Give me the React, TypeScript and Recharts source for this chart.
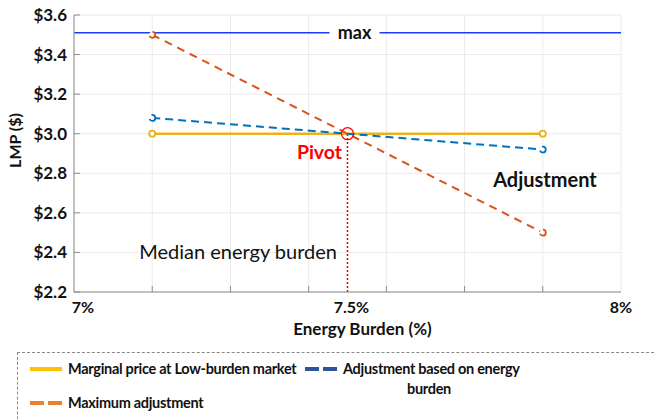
import React from "react";
import { LineChart, Line, XAxis, YAxis, CartesianGrid, ReferenceLine, ReferenceDot } from "recharts";

// values
const burden = [7.143, 7.857];
const lowBurdenPrice = [3.0, 3.0];
const adjustment = [3.08, 2.92];
const maxAdjustment = [3.5, 2.5];
const maxLevel = 3.51;
const pivotX = 7.5;
const pivotY = 3.0;

const yTicks = [2.2, 2.4, 2.6, 2.8, 3.0, 3.2, 3.4, 3.6];
const xGrid = [7, 7.143, 7.286, 7.429, 7.571, 7.714, 7.857, 8];
const xTickLabels: { [k: string]: string } = { "7": "7%", "7.5": "7.5%", "8": "8%" };

const seriesNames = ["Marginal price at Low-burden market", "Adjustment based on energy burden", "Maximum adjustment"];

const data = burden.map((x, i) => ({
  x,
  price: lowBurdenPrice[i],
  adj: adjustment[i],
  max: maxAdjustment[i],
}));

const FONT = "Lato, sans-serif";
const AXIS = "#8c8c8c";

const BottomTick = (p: any) => {
  const v = p.payload.value;
  const label = xTickLabels[String(v)];
  const dx = v === 7 ? 9 : v === 7.5 ? 4 : 0;
  return (
    <g>
      {!label && <line x1={p.x} x2={p.x} y1={p.y} y2={p.y - 6} stroke={AXIS} />}
      {label && (
        <text x={p.x + dx} y={p.y + 21} textAnchor="middle" fontSize={16} fontWeight="bold" fill="#111" fontFamily={FONT}>
          {label}
        </text>
      )}
    </g>
  );
};

const TopTick = (p: any) => <line x1={p.x} x2={p.x} y1={p.y} y2={p.y + 6} stroke={AXIS} />;

const LeftTick = (p: any) => (
  <g>
    <line x1={p.x} x2={p.x + 6} y1={p.y} y2={p.y} stroke={AXIS} />
    <text x={p.x - 7} y={p.y} dy="0.35em" textAnchor="end" fontSize={17} fontWeight="bold" fill="#111" fontFamily={FONT}>
      {"$" + p.payload.value.toFixed(1)}
    </text>
  </g>
);

const RightTick = (p: any) => <line x1={p.x} x2={p.x - 6} y1={p.y} y2={p.y} stroke={AXIS} />;

const dotStyle = (color: string) => ({ r: 3, stroke: color, strokeWidth: 1.8, fill: "#fff" });

const legendText = { fontSize: 14.5, letterSpacing: -0.3, whiteSpace: "nowrap" as const };

export default function App() {
  return (
    <div style={{ position: "relative", width: 662, height: 419, margin: "-8px 0 0 -8px", fontFamily: FONT }}>
      <LineChart width={662} height={340} data={data} margin={{ top: 15, right: 41, bottom: 0, left: 0 }}>
        <CartesianGrid stroke="#ebebeb" verticalValues={xGrid} horizontalValues={yTicks} />
        <XAxis
          dataKey="x"
          type="number"
          domain={[7, 8]}
          ticks={[...xGrid.slice(0, 4), 7.5, ...xGrid.slice(4)]}
          interval={0}
          height={48}
          tickSize={0}
          tickMargin={0}
          stroke={AXIS}
          tick={<BottomTick />}
          label={{
            content: (props: any) => {
              const vb = props.viewBox;
              return (
                <text x={vb.x + vb.width / 2 + 15} y={vb.y + 37} dy="0.35em" textAnchor="middle" fontSize={17} fontWeight="bold" fill="#111" fontFamily={FONT}>
                  Energy Burden (%)
                </text>
              );
            },
          }}
        />
        <XAxis xAxisId="top" orientation="top" type="number" domain={[7, 8]} ticks={xGrid} interval={0} height={0} tickSize={0} tickMargin={0} stroke={AXIS} tick={<TopTick />} />
        <YAxis
          type="number"
          domain={[2.2, 3.6]}
          ticks={yTicks}
          interval={0}
          width={74}
          tickSize={0}
          tickMargin={0}
          stroke={AXIS}
          tick={<LeftTick />}
          label={{
            content: (props: any) => {
              const vb = props.viewBox;
              const cx = vb.x + 15;
              const cy = vb.y + vb.height / 2 - 13;
              return (
                <text x={cx} y={cy} dy="0.35em" textAnchor="middle" transform={`rotate(-90 ${cx} ${cy})`} fontSize={16} fontWeight="bold" fill="#111" fontFamily={FONT}>
                  LMP ($)
                </text>
              );
            },
          }}
        />
        <YAxis yAxisId="right" orientation="right" type="number" domain={[2.2, 3.6]} ticks={yTicks} interval={0} width={0} tickSize={0} tickMargin={0} stroke={AXIS} tick={<RightTick />} />

        <ReferenceLine
          y={maxLevel}
          stroke="#1a3cff"
          strokeWidth={1.5}
          label={{
            content: (props: any) => {
              const vb = props.viewBox;
              const cx = vb.x + vb.width / 2 + 7;
              return (
                <g>
                  <rect x={cx - 25} y={vb.y - 8} width={50} height={16} fill="#fff" />
                  <text x={cx} y={vb.y} dy="0.35em" textAnchor="middle" fontSize={18} fontWeight="bold" fill="#111" fontFamily={FONT}>
                    max
                  </text>
                </g>
              );
            },
          }}
        />
        <ReferenceLine segment={[{ x: pivotX, y: 2.2 }, { x: pivotX, y: pivotY }]} stroke="#e00000" strokeWidth={1.5} strokeDasharray="2 2" />

        <Line dataKey="price" stroke="#EDB120" strokeWidth={2.5} dot={dotStyle("#EDB120")} isAnimationActive={false} />
        <Line dataKey="adj" stroke="#0072BD" strokeWidth={2} strokeDasharray="8 5" dot={dotStyle("#0072BD")} isAnimationActive={false} />
        <Line dataKey="max" stroke="#D95319" strokeWidth={2} strokeDasharray="8 6" dot={dotStyle("#D95319")} isAnimationActive={false} />

        <ReferenceDot
          x={pivotX}
          y={pivotY}
          r={6}
          fill="none"
          stroke="#ff0000"
          strokeWidth={1.2}
          label={{
            content: (props: any) => {
              const vb = props.viewBox;
              const cx = vb.x + vb.width / 2;
              const cy = vb.y + vb.height / 2;
              return (
                <text x={cx - 28} y={cy + 18} dy="0.35em" textAnchor="middle" fontSize={19.5} fontWeight="bold" fill="#ff0000" fontFamily={FONT}>
                  Pivot
                </text>
              );
            },
          }}
        />
        <ReferenceDot
          x={7.3}
          y={2.4}
          r={0}
          fill="none"
          stroke="none"
          label={{
            content: (props: any) => {
              const vb = props.viewBox;
              return (
                <text x={vb.x + vb.width / 2} y={vb.y + vb.height / 2} dy="0.35em" textAnchor="middle" fontSize={20} fill="#111" fontFamily={FONT}>
                  Median energy burden
                </text>
              );
            },
          }}
        />
        <ReferenceDot
          x={7.861}
          y={2.766}
          r={0}
          fill="none"
          stroke="none"
          label={{
            content: (props: any) => {
              const vb = props.viewBox;
              return (
                <text x={vb.x + vb.width / 2} y={vb.y + vb.height / 2} dy="0.35em" textAnchor="middle" fontSize={20} fontWeight="bold" fill="#111" fontFamily={FONT}>
                  Adjustment
                </text>
              );
            },
          }}
        />
      </LineChart>

      <div style={{ position: "absolute", left: 17, top: 352, width: 700, height: 100, border: "1px dashed #888", fontWeight: "bold", color: "#111" }}>
        <div style={{ position: "absolute", left: 12, top: 7, display: "flex", alignItems: "center", ...legendText }}>
          <span style={{ display: "inline-block", width: 32, height: 4, background: "#FFC000", marginRight: 6 }} />
          {seriesNames[0]}
        </div>
        <div style={{ position: "absolute", left: 287, top: 7, ...legendText }}>
          <div style={{ display: "flex", alignItems: "center" }}>
            <span style={{ display: "inline-block", width: 14, height: 4, background: "#2F5597", marginRight: 4 }} />
            <span style={{ display: "inline-block", width: 14, height: 4, background: "#2F5597", marginRight: 6 }} />
            {seriesNames[1].replace(" burden", "")}
          </div>
          <div style={{ paddingLeft: 102, marginTop: 3 }}>burden</div>
        </div>
        <div style={{ position: "absolute", left: 12, top: 41, display: "flex", alignItems: "center", ...legendText }}>
          <span style={{ display: "inline-block", width: 14, height: 4, background: "#ED7D31", marginRight: 4 }} />
          <span style={{ display: "inline-block", width: 14, height: 4, background: "#ED7D31", marginRight: 6 }} />
          {seriesNames[2]}
        </div>
      </div>
    </div>
  );
}
